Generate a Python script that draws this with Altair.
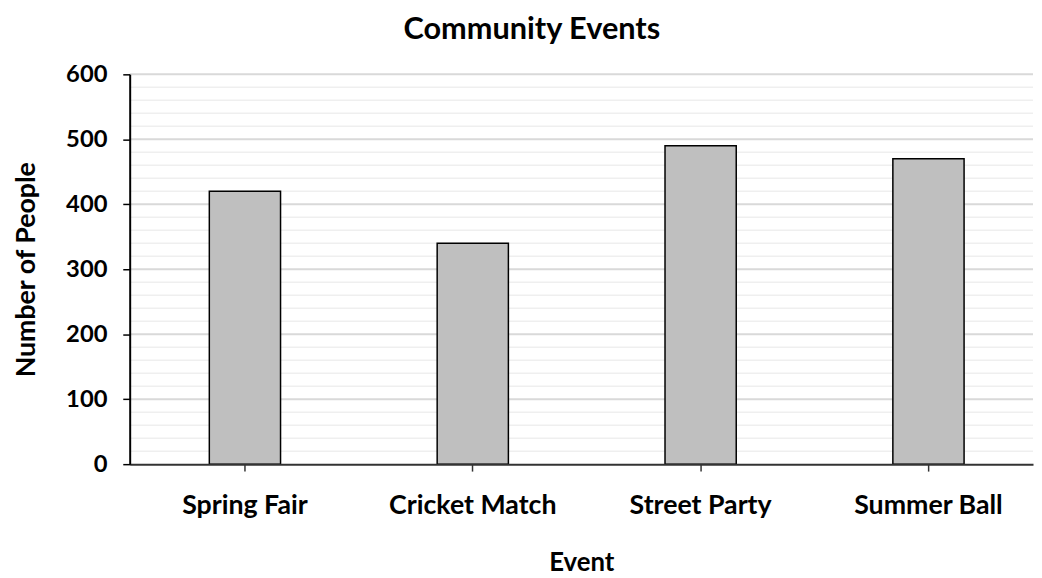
import altair as alt
import pandas as pd

events = ["Spring Fair", "Cricket Match", "Street Party", "Summer Ball"]
people = [420, 340, 490, 470]
major_ticks = [0, 100, 200, 300, 400, 500, 600]
minor_ticks = [v for v in range(0, 601, 20) if v % 100 != 0]

df = pd.DataFrame({"Event": events, "People": people})
minor_df = pd.DataFrame({"v": minor_ticks})
major_df = pd.DataFrame({"v": major_ticks[1:]})

FONT = "Lato"

xscale = alt.Scale(domain=events, paddingInner=0.6874, paddingOuter=0.326, align=0.536)
yscale = alt.Scale(domain=[0, 600], nice=False)

yaxis = alt.Axis(title="Number of People", values=major_ticks, labelFont=FONT,
                 labelFontSize=24, labelFontWeight="bold", labelColor="black",
                 labelPadding=16, titleFont=FONT, titleFontSize=27,
                 titleFontWeight="bold", titleColor="black", titlePadding=25,
                 tickSize=7, tickColor="black", tickWidth=1.5, domainColor="black",
                 domainWidth=2, grid=False, zindex=1)

minor = alt.Chart(minor_df).mark_rule(color="#efefef", strokeWidth=1.5).encode(
    y=alt.Y("v:Q", scale=yscale, axis=yaxis, title="Number of People")
)
major = alt.Chart(major_df).mark_rule(color="#d9d9d9", strokeWidth=2).encode(
    y=alt.Y("v:Q", scale=yscale, axis=yaxis, title="Number of People")
)

bars = alt.Chart(df).mark_bar(color="#bfbfbf", stroke="black", strokeWidth=1.5).encode(
    x=alt.X("Event:N", sort=events, scale=xscale,
            axis=alt.Axis(title="Event", labelAngle=0, labelFont=FONT, labelFontSize=27,
                          labelFontWeight="bold", labelColor="black", labelPadding=22,
                          titleFont=FONT, titleFontSize=26, titleFontWeight="bold",
                          titleColor="black", titlePadding=31, tickSize=7,
                          tickColor="#333333", tickWidth=1.5, domainColor="#333333",
                          domainWidth=2, grid=False, zindex=1)),
    y=alt.Y("People:Q", scale=yscale, axis=yaxis, title="Number of People"),
)

chart = alt.layer(minor, major, bars).properties(
    width=913, height=394,
    padding={"left": 5, "top": 3, "right": 0, "bottom": 0},
    title=alt.TitleParams("Community Events", font=FONT, fontSize=31, fontWeight="bold",
                          color="black", offset=17, dx=-50),
).configure_view(stroke=None)

chart.save("out.html", embed_options={"renderer": "svg", "actions": False})
